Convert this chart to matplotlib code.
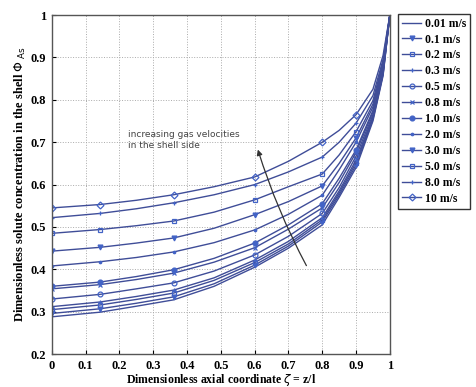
import numpy as np
import matplotlib
matplotlib.use('Agg')
import matplotlib.pyplot as plt

zeta = [0, 0.143, 0.25, 0.36, 0.48, 0.6, 0.7, 0.8, 0.85, 0.9, 0.95, 0.98, 1.0]

labels = ['0.01 m/s', '0.1 m/s', '0.2 m/s', '0.3 m/s', '0.5 m/s', '0.8 m/s',
          '1.0 m/s', '2.0 m/s', '3.0 m/s', '5.0 m/s', '8.0 m/s', '10 m/s']

phi_001 = [0.288, 0.299, 0.313, 0.328, 0.360, 0.405, 0.450, 0.505, 0.570, 0.640, 0.750, 0.857, 1.0]
phi_01 = [0.296, 0.307, 0.320, 0.335, 0.366, 0.410, 0.455, 0.512, 0.575, 0.646, 0.754, 0.860, 1.0]
phi_02 = [0.305, 0.316, 0.329, 0.344, 0.374, 0.416, 0.460, 0.517, 0.580, 0.652, 0.757, 0.862, 1.0]
phi_03 = [0.312, 0.323, 0.336, 0.351, 0.380, 0.422, 0.466, 0.522, 0.585, 0.658, 0.760, 0.865, 1.0]
phi_05 = [0.330, 0.341, 0.354, 0.368, 0.396, 0.434, 0.478, 0.532, 0.593, 0.667, 0.765, 0.868, 1.0]
phi_08 = [0.354, 0.364, 0.376, 0.391, 0.417, 0.451, 0.495, 0.545, 0.605, 0.676, 0.771, 0.872, 1.0]
phi_1 = [0.360, 0.370, 0.383, 0.399, 0.426, 0.462, 0.505, 0.555, 0.615, 0.682, 0.775, 0.875, 1.0]
phi_2 = [0.408, 0.418, 0.428, 0.441, 0.463, 0.493, 0.530, 0.575, 0.635, 0.700, 0.783, 0.880, 1.0]
phi_3 = [0.443, 0.452, 0.462, 0.474, 0.497, 0.529, 0.560, 0.597, 0.650, 0.710, 0.790, 0.885, 1.0]
phi_5 = [0.485, 0.494, 0.503, 0.514, 0.535, 0.564, 0.595, 0.625, 0.670, 0.725, 0.798, 0.890, 1.0]
phi_8 = [0.522, 0.532, 0.543, 0.557, 0.576, 0.600, 0.630, 0.665, 0.700, 0.745, 0.810, 0.895, 1.0]
phi_10 = [0.545, 0.553, 0.563, 0.576, 0.595, 0.618, 0.655, 0.700, 0.728, 0.765, 0.825, 0.905, 1.0]

series = [phi_001, phi_01, phi_02, phi_03, phi_05, phi_08,
          phi_1, phi_2, phi_3, phi_5, phi_8, phi_10]
markers = ['', 'v', 's', '+', 'o', 'x', 'o', '.', 'v', 's', '+', 'D']
filled = [True, True, False, True, False, True, True, True, True, False, True, False]

line_col = '#3f4d98'
mark_col = '#4263c6'

fig = plt.figure(figsize=(4.76, 3.87), dpi=100)
ax = fig.add_axes([0.109, 0.085, 0.710, 0.876])

for y, lab, m, f in zip(series, labels, markers, filled):
    ax.plot(zeta, y, color=line_col, lw=1.0, marker=m if m else None,
            markersize=3.5, markevery=[0, 1, 3, 5, 7, 9],
            markerfacecolor=mark_col if f else 'none',
            markeredgecolor=mark_col, markeredgewidth=0.9, label=lab)

ax.set_xlim(0, 1)
ax.set_ylim(0.2, 1)
ax.set_xticks(np.arange(0, 1.01, 0.1))
ax.set_yticks(np.arange(0.2, 1.01, 0.1))
ax.set_xticklabels(['0', '0.1', '0.2', '0.3', '0.4', '0.5', '0.6', '0.7', '0.8', '0.9', '1'])
ax.set_yticklabels(['0.2', '0.3', '0.4', '0.5', '0.6', '0.7', '0.8', '0.9', '1'])
ax.tick_params(direction='in', length=3, labelsize=9, pad=4)
for t in ax.get_xticklabels() + ax.get_yticklabels():
    t.set_family('Liberation Serif')
    t.set_fontweight('bold')
ax.grid(True, linestyle=':', color='#aaaaaa', lw=0.7)
for s in ax.spines.values():
    s.set_color('#555555')
    s.set_linewidth(1.0)

ax.set_xlabel(r'Dimensionless axial coordinate $\zeta$ = z/l', family='Liberation Serif',
              fontweight='bold', fontsize=8.5, labelpad=0)
ax.set_ylabel(r'Dimensionless solute concentration in the shell $\Phi_{\ \mathrm{As}}$',
              family='Liberation Serif', fontweight='bold', fontsize=9, labelpad=2)

ax.text(0.225, 0.728, 'increasing gas velocities\nin the shell side', fontsize=6.5,
        color='#444444', va='top', ha='left', linespacing=1.3)
ax.annotate('', xy=(0.607, 0.689), xytext=(0.757, 0.403),
            arrowprops=dict(arrowstyle='-|>', color='#333333', lw=0.9,
                            mutation_scale=8, connectionstyle='arc3,rad=-0.05'))

leg = fig.legend(loc='upper left', bbox_to_anchor=(0.836, 0.965), frameon=True,
                 fancybox=False, edgecolor='black', handlelength=1.6,
                 labelspacing=0.33, borderpad=0.35, handletextpad=0.35,
                 borderaxespad=0.0,
                 prop={'family': 'Liberation Serif', 'weight': 'bold', 'size': 8.5})
leg.get_frame().set_linewidth(1.0)

fig.savefig('out.png', dpi=100)
